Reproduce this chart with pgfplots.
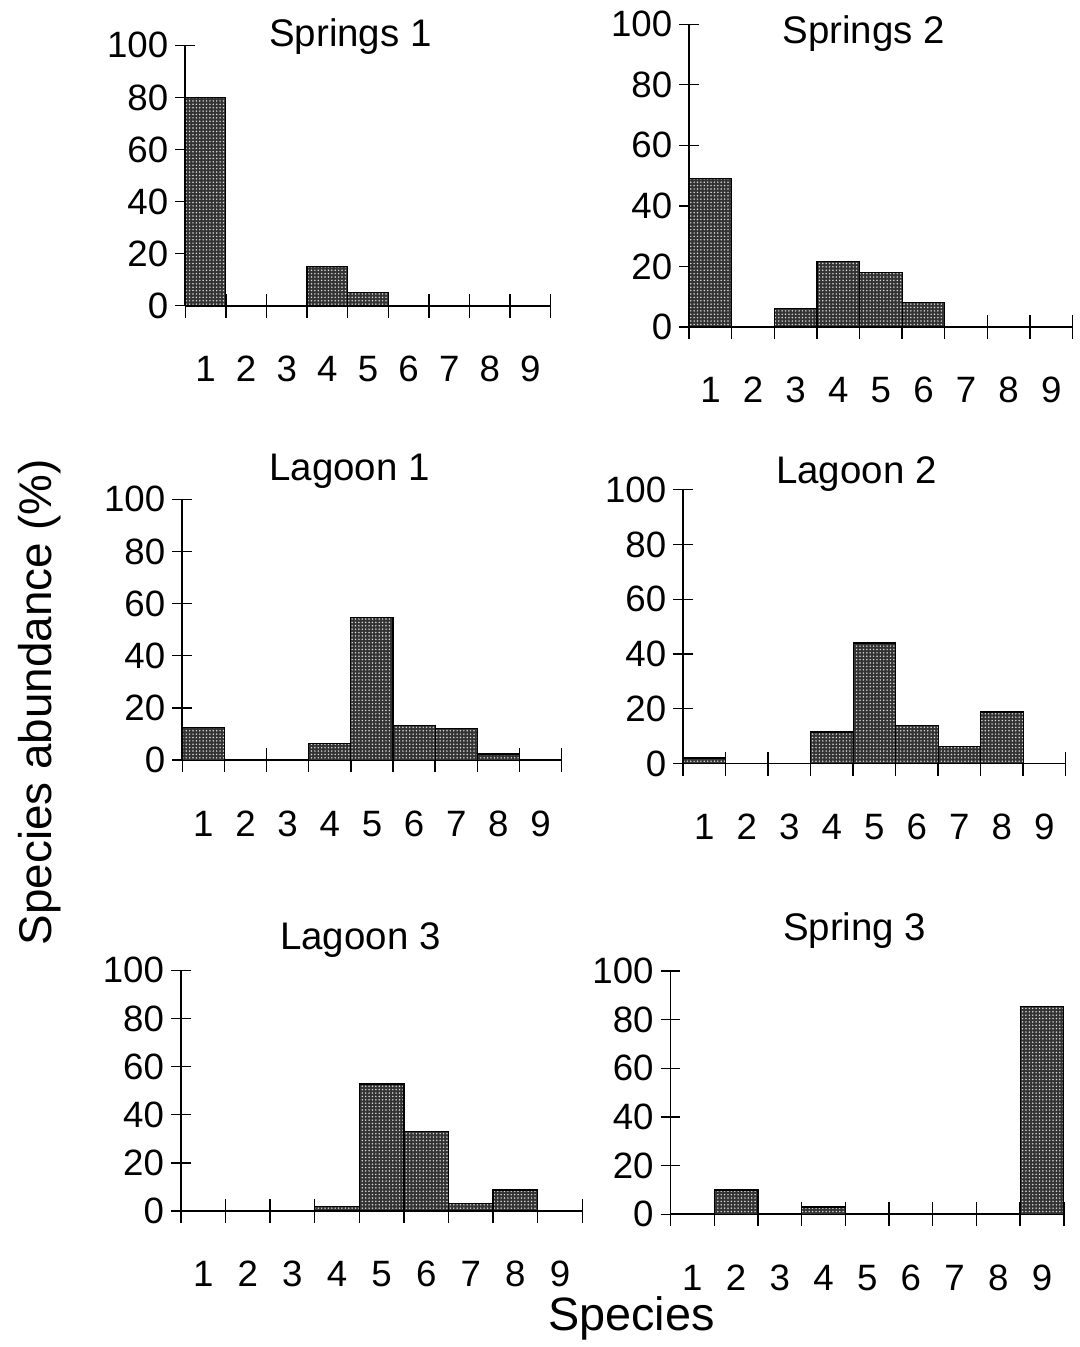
\documentclass[border=0pt]{standalone}
\usepackage{fontspec}
\setmainfont{Liberation Sans}
\usepackage{pgfplots}
\pgfplotsset{compat=1.18}
\usetikzlibrary{patterns.meta}
\tikzdeclarepattern{
  name=fdots,
  type=uncolored,
  bottom left={(-0.85pt,-0.85pt)},
  top right={(0.85pt,0.85pt)},
  tile size={(1.7pt,1.7pt)},
  code={\fill (0pt,0pt) circle (0.42pt);}
}
\pgfplotsset{
  panel/.style={
    scale only axis,
    axis lines=left,
    axis line style={-, line width=0.8pt},
    xmin=0, xmax=9, ymin=0, ymax=100,
    ytick={0,20,...,100},
    xtick={0.5,1.5,...,8.5},
    xticklabels={1,2,3,4,5,6,7,8,9},
    minor xtick={0,1,...,9},
    tick align=center,
    major tick length=10pt,
    minor tick length=12pt,
    major x tick style={draw=none},
    every tick/.style={line width=0.7pt, black},
    minor x tick style={line width=0.7pt, black},
    /pgf/number format/assume math mode=true,
    tick label style={font=\fontsize{18.4}{20}\selectfont},
    xticklabel style={anchor=north, text height=13.6pt, text depth=0pt, yshift=-16pt},
    yticklabel style={anchor=east},
    title style={font=\fontsize{19.3}{22}\selectfont, anchor=base, yshift=-6pt},
    clip=false,
    anchor=south west,
  },
  bars/.style={ybar interval, draw=black, line width=0.6pt, fill=black!80,
    postaction={pattern=fdots, pattern color=white!85!black}},
}
\begin{document}
\begin{tikzpicture}
\path (0pt,0pt) rectangle (542pt,-673.5pt);
% Springs 1
\begin{axis}[panel, at={(93pt,-153.5pt)}, width=183.5pt, height=130.75pt,
  title={Springs 1}, title style={at={(0.452,0.994)}}]
\addplot[bars] coordinates {(0,80) (1,0) (2,0) (3,15) (4,5) (5,0) (6,0) (7,0) (8,0) (9,0)};
\end{axis}
% Springs 2
\begin{axis}[panel, at={(346pt,-164.15pt)}, width=192.5pt, height=152pt,
  title={Springs 2}, title style={at={(0.455,0.9375)}}]
\addplot[bars] coordinates {(0,49) (1,0) (2,6) (3,21.5) (4,18) (5,8) (6,0) (7,0) (8,0) (9,0)};
\end{axis}
% Lagoon 1
\begin{axis}[panel, at={(91.5pt,-381.65pt)}, width=190.5pt, height=131pt,
  title={Lagoon 1}, title style={at={(0.441,1.071)}}]
\addplot[bars] coordinates {(0,12.4) (1,0) (2,0) (3,6.3) (4,54.7) (5,13.2) (6,12) (7,2.4) (8,0) (9,0)};
\end{axis}
% Lagoon 2
\begin{axis}[panel, at={(343pt,-383.35pt)}, width=192pt, height=137.5pt,
  title={Lagoon 2}, title style={at={(0.453,1.024)}}]
\addplot[bars] coordinates {(0,2) (1,0) (2,0) (3,11.5) (4,44) (5,14) (6,6.3) (7,18.8) (8,0) (9,0)};
\end{axis}
% Lagoon 3
\begin{axis}[panel, at={(90.85pt,-608pt)}, width=201.5pt, height=120.85pt,
  title={Lagoon 3}, title style={at={(0.447,1.087)}}]
\addplot[bars] coordinates {(0,0) (1,0) (2,0) (3,2) (4,52.8) (5,33) (6,3.2) (7,8.7) (8,0) (9,0)};
\end{axis}
% Spring 3
\begin{axis}[panel, at={(336.65pt,-609.65pt)}, width=197.5pt, height=122.15pt,
  title={Spring 3}, title style={at={(0.468,1.126)}}]
\addplot[bars] coordinates {(0,0) (1,10) (2,0) (3,3) (4,0) (5,0) (6,0) (7,0) (8,85.3) (9,0)};
\end{axis}
\node[rotate=90, font=\fontsize{23}{26}\selectfont] at (20pt,-352.5pt) {Species abundance (\%)};
\node[font=\fontsize{23.5}{26}\selectfont] at (317pt,-662pt) {Species};
\end{tikzpicture}
\end{document}
